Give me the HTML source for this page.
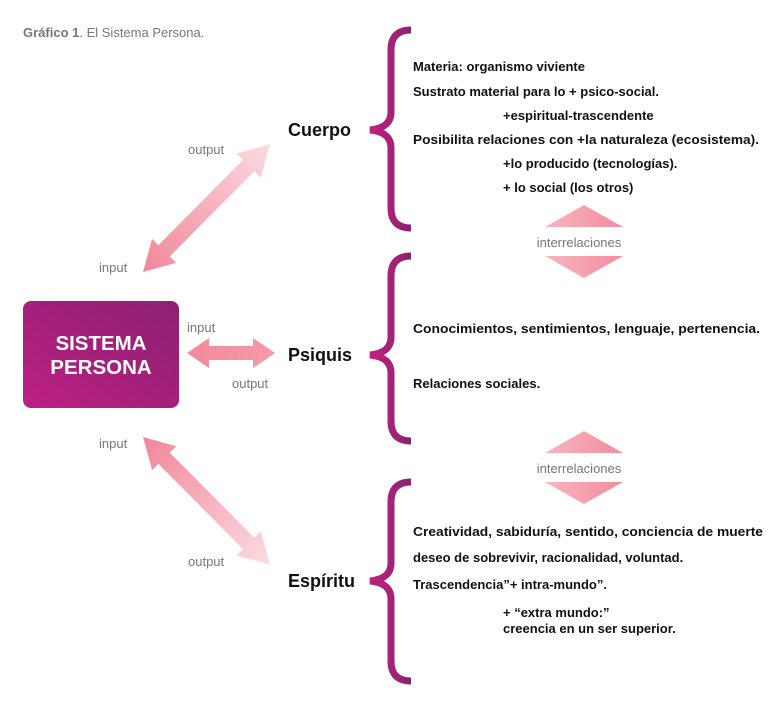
<!DOCTYPE html>
<html><head><meta charset="utf-8"><style>
html,body{margin:0;padding:0;background:#fff;}
svg{display:block;font-family:"Liberation Sans",sans-serif;}
.b{font-weight:bold;font-size:13px;fill:#111;}
.g{font-size:13px;fill:#777;}
.h{font-weight:bold;font-size:18px;fill:#111;}
</style></head><body>
<svg width="782" height="704" viewBox="0 0 782 704">
<defs>
<linearGradient id="box" x1="0" y1="1" x2="1" y2="0">
<stop offset="0" stop-color="#bd1f83"/><stop offset="1" stop-color="#8c2172"/></linearGradient>
<linearGradient id="br" x1="0" y1="0" x2="1" y2="0">
<stop offset="0" stop-color="#c2217f"/><stop offset="1" stop-color="#8a2270"/></linearGradient>
<linearGradient id="ar" x1="0" y1="0" x2="1" y2="0">
<stop offset="0" stop-color="#f08799"/><stop offset="1" stop-color="#fbdbe1"/></linearGradient>
<linearGradient id="ar2" x1="0" y1="0" x2="1" y2="0">
<stop offset="0" stop-color="#f28a9b"/><stop offset="1" stop-color="#f49aa8"/></linearGradient>
<linearGradient id="tri" x1="0" y1="0" x2="1" y2="0">
<stop offset="0" stop-color="#f7b5bf"/><stop offset="1" stop-color="#f28d9e"/></linearGradient>
</defs>
<text x="23" y="37" style="font-size:13px;fill:#777"><tspan font-weight="bold">Gráfico 1</tspan>. El Sistema Persona.</text>

<rect x="23" y="301" width="156" height="107" rx="8" fill="url(#box)"/>
<text x="101" y="350" text-anchor="middle" style="font-weight:bold;font-size:20.5px;fill:#fff">SISTEMA</text>
<text x="101" y="374" text-anchor="middle" style="font-weight:bold;font-size:20.5px;fill:#fff">PERSONA</text>

<g transform="translate(143,272) rotate(-45.2)">
<polygon points="0,0 30,-17 30,-8 150,-8 150,-17 180,0 150,17 150,8 30,8 30,17" fill="url(#ar)"/></g>
<g transform="translate(187,353)">
<polygon points="0,0 22,-15 22,-7 66,-7 66,-15 88,0 66,15 66,7 22,7 22,15" fill="url(#ar2)"/></g>
<g transform="translate(143,437) rotate(45.2)">
<polygon points="0,0 30,-17 30,-8 150,-8 150,-17 180,0 150,17 150,8 30,8 30,17" fill="url(#ar)"/></g>

<text x="188" y="154" class="g">output</text>
<text x="99" y="272" class="g">input</text>
<text x="187" y="332" class="g">input</text>
<text x="232" y="388" class="g">output</text>
<text x="99" y="448" class="g">input</text>
<text x="188" y="566" class="g">output</text>

<text x="288" y="136" class="h">Cuerpo</text>
<text x="288" y="361" class="h">Psiquis</text>
<text x="288" y="587" class="h">Espíritu</text>

<g fill="none" stroke="url(#br)" stroke-width="7" stroke-linecap="butt">
<path d="M411,30 Q391,30 391,50 L391,112 Q391,128 370,130 Q391,132 391,148 L391,208 Q391,228 411,228"/>
<path d="M411,256 Q391,256 391,276 L391,337 Q391,353 370,355 Q391,357 391,373 L391,421 Q391,441 411,441"/>
<path d="M411,482 Q391,482 391,502 L391,563 Q391,579 370,581 Q391,583 391,599 L391,661 Q391,681 411,681"/>
</g>

<polygon points="584,205 623,227 545,227" fill="url(#tri)"/>
<polygon points="545,256 623,256 584,278" fill="url(#tri)"/>
<text x="579" y="247" text-anchor="middle" class="g">interrelaciones</text>
<polygon points="584,431 623,453 545,453" fill="url(#tri)"/>
<polygon points="545,482 623,482 584,504" fill="url(#tri)"/>
<text x="579" y="473" text-anchor="middle" class="g">interrelaciones</text>

<text x="413" y="71" class="b">Materia: organismo viviente</text>
<text x="413" y="96" class="b">Sustrato material para lo + psico-social.</text>
<text x="503" y="120" class="b">+espiritual-trascendente</text>
<text x="413" y="144" class="b" textLength="346" lengthAdjust="spacingAndGlyphs">Posibilita relaciones con +la naturaleza (ecosistema).</text>
<text x="503" y="168" class="b">+lo producido (tecnologías).</text>
<text x="503" y="192" class="b">+ lo social (los otros)</text>

<text x="413" y="333" class="b" textLength="347" lengthAdjust="spacingAndGlyphs">Conocimientos, sentimientos, lenguaje, pertenencia.</text>
<text x="413" y="388" class="b">Relaciones sociales.</text>

<text x="413" y="536" class="b" textLength="350" lengthAdjust="spacingAndGlyphs">Creatividad, sabiduría, sentido, conciencia de muerte</text>
<text x="413" y="562" class="b">deseo de sobrevivir, racionalidad, voluntad.</text>
<text x="413" y="589" class="b">Trascendencia”+ intra-mundo”.</text>
<text x="503" y="617" class="b">+ “extra mundo:”</text>
<text x="503" y="633" class="b">creencia en un ser superior.</text>
</svg>
</body></html>
